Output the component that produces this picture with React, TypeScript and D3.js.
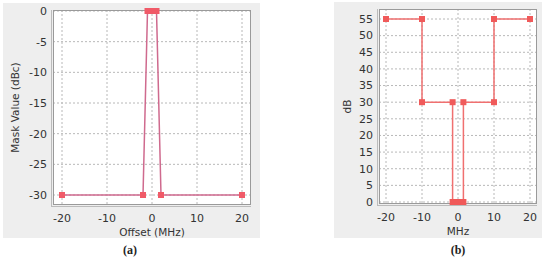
import React from "react";
import * as d3 from "d3";

const maskAX = [-20, -2, -1, 0, 1, 2, 20];
const maskAY = [-30, -30, 0, 0, 0, -30, -30];
const ticksAX = [-20, -10, 0, 10, 20];
const ticksAY = [0, -5, -10, -15, -20, -25, -30];

const maskBX = [-20, -10, -10, -1.5, -1.5, 0, 1.5, 1.5, 10, 10, 20];
const maskBY = [55, 55, 30, 30, 0, 0, 0, 30, 30, 55, 55];
const ticksBX = [-20, -10, 0, 10, 20];
const ticksBY = [0, 5, 10, 15, 20, 25, 30, 35, 40, 45, 50, 55];

const FONT = "'DejaVu Sans', sans-serif";

type PanelProps = {
  px: number; py: number; pw: number; ph: number;
  left: number; right: number; top: number; bottom: number;
  xDom: [number, number]; xRange: [number, number];
  yDom: [number, number]; yRange: [number, number];
  xs: number[]; ys: number[]; xt: number[]; yt: number[];
  xTitle: string; yTitle: string; yTitleX: number;
  lineColor: string; markerColor: string; caption: string; captionX: number;
};

function Panel(p: PanelProps) {
  const x = d3.scaleLinear().domain(p.xDom).range(p.xRange);
  const y = d3.scaleLinear().domain(p.yDom).range(p.yRange);
  const pts: [number, number][] = p.xs.map((v, i) => [v, p.ys[i]]);
  const line = d3.line<[number, number]>().x(d => x(d[0])).y(d => y(d[1]));
  return (
    <g>
      <rect x={p.px} y={p.py} width={p.pw} height={p.ph} fill="#eeeeee" />
      <rect x={p.left} y={p.top} width={p.right - p.left} height={p.bottom - p.top} fill="#ffffff" />
      {p.xt.map(t => (
        <line key={"gx" + t} x1={x(t)} x2={x(t)} y1={p.top} y2={p.bottom} stroke="#b8b8b8" strokeWidth={1} strokeDasharray="2,2" />
      ))}
      {p.yt.map(t => (
        <line key={"gy" + t} x1={p.left} x2={p.right} y1={y(t)} y2={y(t)} stroke="#b8b8b8" strokeWidth={1} strokeDasharray="2,2" />
      ))}
      <rect x={p.left + 0.5} y={p.top + 0.5} width={p.right - p.left - 1} height={p.bottom - p.top - 1} fill="none" stroke="#9a9a9a" strokeWidth={1} />
      <line x1={p.left - 1.5} x2={p.left - 1.5} y1={p.top} y2={p.bottom + 2} stroke="#bbbbbb" strokeWidth={1} />
      <line x1={p.left - 1.5} x2={p.right} y1={p.bottom + 1.5} y2={p.bottom + 1.5} stroke="#bbbbbb" strokeWidth={1} />
      <path d={line(pts) || ""} fill="none" stroke={p.lineColor} strokeWidth={1.5} />
      {pts.map((d, i) => (
        <rect key={"m" + i} x={x(d[0]) - 3} y={y(d[1]) - 3} width={6} height={6} fill={p.markerColor} />
      ))}
      {p.yt.map(t => (
        <text key={"ty" + t} x={p.left - 6} y={y(t)} dy="0.35em" textAnchor="end" fontFamily={FONT} fontSize={11} fill="#333">{t}</text>
      ))}
      {p.xt.map(t => (
        <text key={"tx" + t} x={x(t)} y={p.bottom + 17} textAnchor="middle" fontFamily={FONT} fontSize={11} fill="#333">{t}</text>
      ))}
      <text x={(p.left + p.right) / 2} y={p.bottom + 31} textAnchor="middle" fontFamily={FONT} fontSize={10.5} fill="#333">{p.xTitle}</text>
      <text transform={`translate(${p.yTitleX},${(p.top + p.bottom) / 2}) rotate(-90)`} textAnchor="middle" fontFamily={FONT} fontSize={10.5} fill="#333">{p.yTitle}</text>
      <text x={p.captionX} y={254} textAnchor="middle" fontFamily="'Liberation Serif', serif" fontWeight="bold" fontSize={12} fill="#222">{p.caption}</text>
    </g>
  );
}

export default function App() {
  return (
    <svg width={550} height={259} style={{ position: "absolute", left: 0, top: 0, background: "#fff" }}>
      <Panel px={3} py={3} pw={257} ph={235} left={53} right={251} top={10} bottom={205}
        xDom={[-20, 20]} xRange={[62, 242]} yDom={[-30, 0]} yRange={[195, 11]}
        xs={maskAX} ys={maskAY} xt={ticksAX} yt={ticksAY}
        xTitle="Offset (MHz)" yTitle="Mask Value (dBc)" yTitleX={19}
        lineColor="#cf6a8e" markerColor="#f05a68" caption="(a)" captionX={130} />
      <Panel px={334} py={2} pw={208} ph={236} left={379} right={537} top={9} bottom={204}
        xDom={[-20, 20]} xRange={[386, 530]} yDom={[0, 55]} yRange={[202, 19]}
        xs={maskBX} ys={maskBY} xt={ticksBX} yt={ticksBY}
        xTitle="MHz" yTitle="dB" yTitleX={351}
        lineColor="#f07070" markerColor="#f05a5a" caption="(b)" captionX={458} />
    </svg>
  );
}
